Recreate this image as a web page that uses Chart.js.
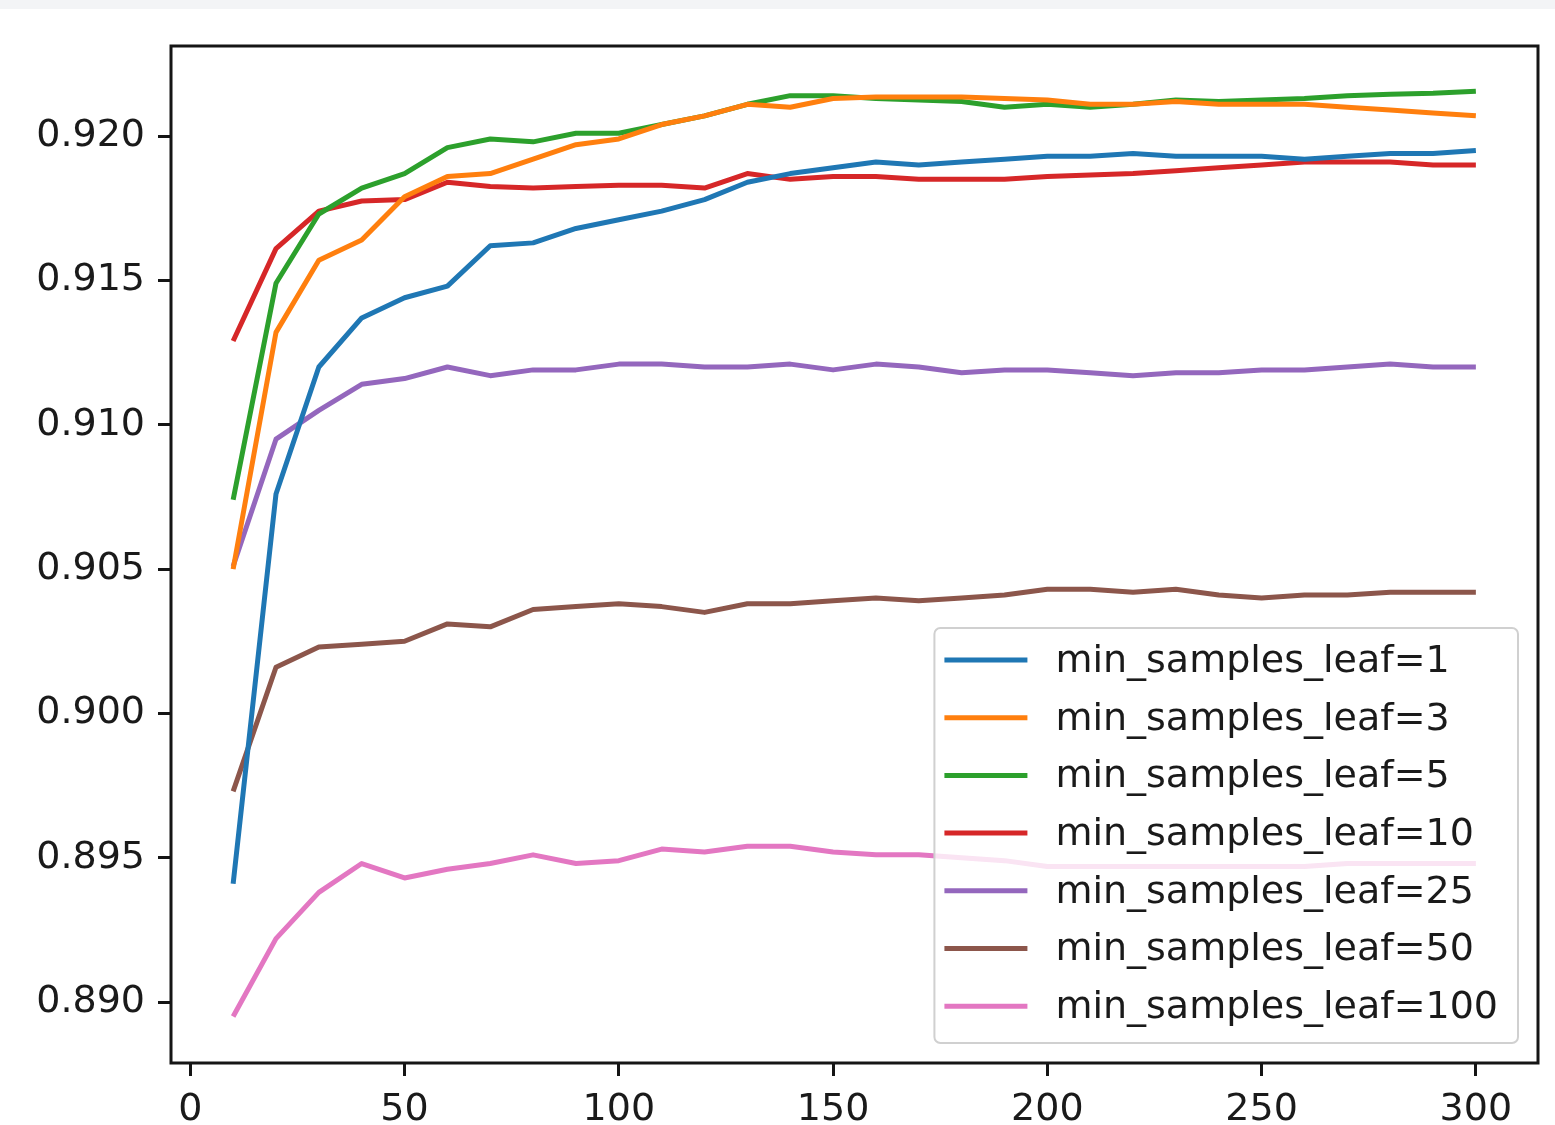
<!DOCTYPE html>
<html>
<head>
<meta charset="utf-8">
<title>min_samples_leaf</title>
<script src="https://cdn.jsdelivr.net/npm/chart.js@4.4.0/dist/chart.umd.min.js"></script>
<style>
    html, body { margin: 0; padding: 0; background: #ffffff; }
    #wrap { position: relative; width: 1555px; height: 1125px; }
    #topbar { position: absolute; left: 0; top: 0; width: 1555px; height: 9px; background: #f3f4f6; }
    canvas { display: block; }
</style>
</head>
<body>
<div id="wrap">
    <canvas id="chart-line" width="1555" height="1125"></canvas>
    <div id="topbar"></div>
</div>
<script>
const nEstimators = [10, 20, 30, 40, 50, 60, 70, 80, 90, 100, 110, 120, 130, 140, 150,
    160, 170, 180, 190, 200, 210, 220, 230, 240, 250, 260, 270, 280, 290, 300];

const leaf1 = [0.8941, 0.9076, 0.9120, 0.9137, 0.9144, 0.9148, 0.9162, 0.9163, 0.9168, 0.9171,
    0.9174, 0.9178, 0.9184, 0.9187, 0.9189, 0.9191, 0.9190, 0.9191, 0.9192, 0.9193,
    0.9193, 0.9194, 0.9193, 0.9193, 0.9193, 0.9192, 0.9193, 0.9194, 0.9194, 0.9195];
const leaf3 = [0.9050, 0.9132, 0.9157, 0.9164, 0.9179, 0.9186, 0.9187, 0.9192, 0.9197, 0.9199,
    0.9204, 0.9207, 0.9211, 0.9210, 0.9213, 0.92135, 0.92135, 0.92135, 0.9213, 0.92125,
    0.9211, 0.9211, 0.9212, 0.9211, 0.9211, 0.9211, 0.9210, 0.9209, 0.9208, 0.9207];
const leaf5 = [0.9074, 0.9149, 0.9173, 0.9182, 0.9187, 0.9196, 0.9199, 0.9198, 0.9201, 0.9201,
    0.9204, 0.9207, 0.9211, 0.9214, 0.9214, 0.9213, 0.92125, 0.9212, 0.9210, 0.9211,
    0.9210, 0.9211, 0.92125, 0.9212, 0.92125, 0.9213, 0.9214, 0.92145, 0.92148, 0.92155];
const leaf10 = [0.9129, 0.9161, 0.9174, 0.91775, 0.9178, 0.9184, 0.91825, 0.9182, 0.91825, 0.9183,
    0.9183, 0.9182, 0.9187, 0.9185, 0.9186, 0.9186, 0.9185, 0.9185, 0.9185, 0.9186,
    0.91865, 0.9187, 0.9188, 0.9189, 0.9190, 0.9191, 0.9191, 0.9191, 0.9190, 0.9190];
const leaf25 = [0.9051, 0.9095, 0.9105, 0.9114, 0.9116, 0.9120, 0.9117, 0.9119, 0.9119, 0.9121,
    0.9121, 0.9120, 0.9120, 0.9121, 0.9119, 0.9121, 0.9120, 0.9118, 0.9119, 0.9119,
    0.9118, 0.9117, 0.9118, 0.9118, 0.9119, 0.9119, 0.9120, 0.9121, 0.9120, 0.9120];
const leaf50 = [0.8973, 0.9016, 0.9023, 0.9024, 0.9025, 0.9031, 0.9030, 0.9036, 0.9037, 0.9038,
    0.9037, 0.9035, 0.9038, 0.9038, 0.9039, 0.9040, 0.9039, 0.9040, 0.9041, 0.9043,
    0.9043, 0.9042, 0.9043, 0.9041, 0.9040, 0.9041, 0.9041, 0.9042, 0.9042, 0.9042];
const leaf100 = [0.8895, 0.8922, 0.8938, 0.8948, 0.8943, 0.8946, 0.8948, 0.8951, 0.8948, 0.8949,
    0.8953, 0.8952, 0.8954, 0.8954, 0.8952, 0.8951, 0.8951, 0.8950, 0.8949, 0.8947,
    0.8947, 0.8947, 0.8947, 0.8947, 0.8947, 0.8947, 0.8948, 0.8948, 0.8948, 0.8948];

const seriesLabels = ["min_samples_leaf=1", "min_samples_leaf=3", "min_samples_leaf=5",
    "min_samples_leaf=10", "min_samples_leaf=25", "min_samples_leaf=50", "min_samples_leaf=100"];
const seriesValues = [leaf1, leaf3, leaf5, leaf10, leaf25, leaf50, leaf100];
const seriesColors = ["#1f77b4", "#ff7f0e", "#2ca02c", "#d62728", "#9467bd", "#8c564b", "#e377c2"];

const xTicks = [0, 50, 100, 150, 200, 250, 300];
const yTicks = [0.890, 0.895, 0.900, 0.905, 0.910, 0.915, 0.920];

const FONT = "DejaVu Sans";
const FONT_SIZE = 38;
const TEXT_COLOR = "#1a1a1a";
const LINE_W = 5;

// box round the plot area, like matplotlib spines
const framePlugin = {
    id: "frame",
    afterDatasetsDraw(chart) {
        const { ctx, chartArea: a } = chart;
        ctx.save();
        ctx.strokeStyle = "#151515";
        ctx.lineWidth = 3;
        ctx.strokeRect(a.left, a.top, a.right - a.left, a.bottom - a.top);
        ctx.restore();
    }
};

// legend in the lower right corner, drawn on top of the lines
const legendPlugin = {
    id: "cornerLegend",
    afterDatasetsDraw(chart) {
        const { ctx, chartArea: a } = chart;
        const sets = chart.data.datasets;
        ctx.save();
        ctx.font = FONT_SIZE + "px '" + FONT + "'";
        let textW = 0;
        sets.forEach(ds => { textW = Math.max(textW, ctx.measureText(ds.label).width); });

        const rowH = 57.7;
        const handleX = 10, handleLen = 83, textGap = 28, padR = 20;
        const w = handleX + handleLen + textGap + textW + padR;
        const h = 415;
        const right = a.right - 20, bottom = a.bottom - 20;
        const left = right - w, top = bottom - h;

        ctx.beginPath();
        ctx.roundRect(left, top, w, h, 6);
        ctx.fillStyle = "rgba(255,255,255,0.8)";
        ctx.fill();
        ctx.lineWidth = 2;
        ctx.strokeStyle = "#d0d0d0";
        ctx.stroke();

        ctx.textBaseline = "middle";
        ctx.textAlign = "left";
        sets.forEach((ds, i) => {
            const cy = top + 32 + i * rowH;
            ctx.beginPath();
            ctx.moveTo(left + handleX, cy);
            ctx.lineTo(left + handleX + handleLen, cy);
            ctx.lineWidth = LINE_W;
            ctx.strokeStyle = ds.borderColor;
            ctx.stroke();
            ctx.fillStyle = TEXT_COLOR;
            ctx.fillText(ds.label, left + handleX + handleLen + textGap, cy + 2);
        });
        ctx.restore();
    }
};

const datasets = seriesValues.map((vals, i) => ({
    label: seriesLabels[i],
    data: nEstimators.map((n, j) => ({ x: n, y: vals[j] })),
    borderColor: seriesColors[i],
    backgroundColor: seriesColors[i],
    borderWidth: LINE_W,
    borderJoinStyle: "round",
    pointRadius: 0,
    tension: 0,
    fill: false
}));

const ctx1 = document.getElementById("chart-line").getContext("2d");
new Chart(ctx1, {
    type: "line",
    data: { datasets: datasets },
    options: {
        responsive: false,
        animation: false,
        devicePixelRatio: 1,
        layout: { padding: { left: 0, right: 17, top: 46, bottom: 0 } },
        plugins: {
            legend: { display: false },
            tooltip: { enabled: false }
        },
        scales: {
            x: {
                type: "linear",
                min: -4.5,
                max: 314.5,
                afterBuildTicks: (scale) => { scale.ticks = xTicks.map(v => ({ value: v })); },
                afterFit: (scale) => { scale.height = 62; },
                border: { display: false },
                grid: {
                    display: true,
                    drawOnChartArea: false,
                    drawTicks: true,
                    tickLength: 13,
                    tickWidth: 3,
                    tickColor: "#151515"
                },
                ticks: {
                    padding: 11,
                    color: TEXT_COLOR,
                    maxRotation: 0,
                    font: { family: FONT, size: FONT_SIZE },
                    callback: (v) => String(v)
                }
            },
            y: {
                type: "linear",
                min: 0.88789,
                max: 0.92312,
                afterBuildTicks: (scale) => { scale.ticks = yTicks.map(v => ({ value: v })); },
                afterFit: (scale) => { scale.width = 171; },
                border: { display: false },
                grid: {
                    display: true,
                    drawOnChartArea: false,
                    drawTicks: true,
                    tickLength: 13,
                    tickWidth: 3,
                    tickColor: "#151515"
                },
                ticks: {
                    padding: 13,
                    color: TEXT_COLOR,
                    font: { family: FONT, size: FONT_SIZE },
                    callback: (v) => Number(v).toFixed(3)
                }
            }
        }
    },
    plugins: [framePlugin, legendPlugin]
});
</script>
</body>
</html>
